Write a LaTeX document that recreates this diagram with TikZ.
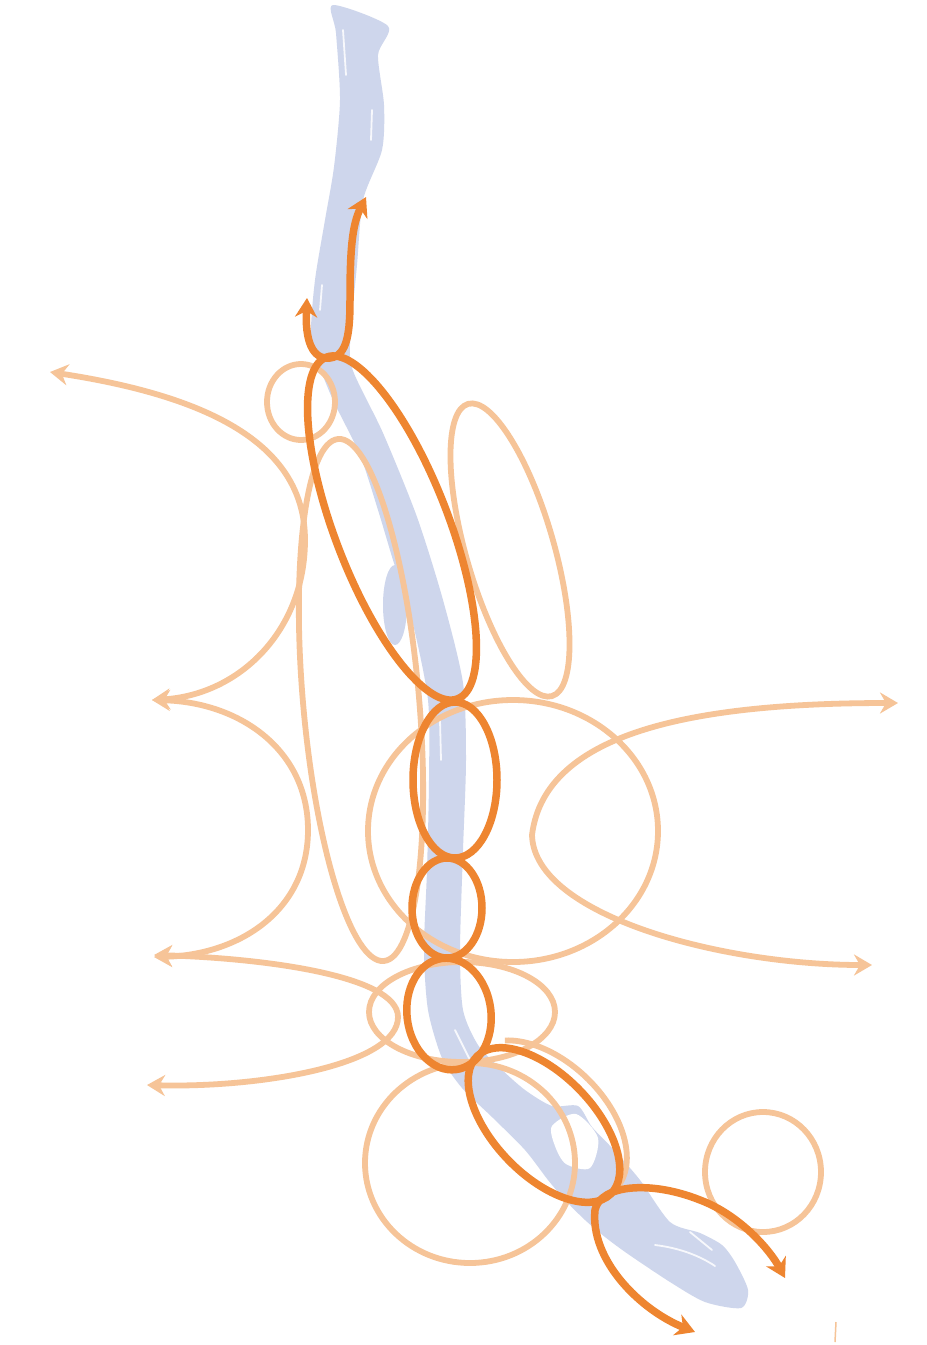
\documentclass[tikz,border=0pt]{standalone}
\usetikzlibrary{arrows.meta}
\definecolor{riverblue}{RGB}{206,214,236}
\definecolor{lightor}{RGB}{246,196,152}
\definecolor{darkor}{RGB}{238,133,48}
\begin{document}
\begin{tikzpicture}[x=1pt,y=-1pt,
  lightline/.style={draw=lightor,line width=5.8pt},
  darkline/.style={draw=darkor,line width=7.5pt},
  lboth/.style={{Stealth[length=18pt,width=21pt,inset=6pt]}-{Stealth[length=18pt,width=21pt,inset=6pt]}},
  dboth/.style={{Stealth[length=19pt,width=22pt,inset=6pt]}-{Stealth[length=19pt,width=22pt,inset=6pt]}},
  riverfill/.style={fill=riverblue,draw=none},
  streak/.style={draw=white,line width=1.8pt,opacity=0.85,line cap=round}]
\useasboundingbox[fill=white] (0,0) rectangle (927,1345);

% river
\path[riverfill] plot[smooth cycle,tension=0.45] coordinates {
 (333,5) (388,26) (378,55) (384,105) (382,150) (363,200) (357,265) (351,330)
 (352,368) (383,433) (417,517) (443,600) (463,683) (466,760) (463,850) (460,950)
 (463,1010) (478,1045) (500,1068) (525,1090) (552,1106) (578,1106) (592,1127)
 (614,1150) (640,1180) (670,1222) (700,1233) (722,1245) (735,1262) (748,1290)
 (741,1308) (705,1302) (670,1282) (628,1254) (605,1237) (585,1220) (565,1200)
 (548,1180) (525,1150) (492,1117) (462,1088) (442,1058) (428,1010) (424,950)
 (427,870) (429,780) (428,700) (412,620) (393,560) (378,510) (360,455) (333,400)
 (318,362) (311,333) (315,280) (325,220) (334,167) (340,100) (336,33)};
\path[riverfill] (395,605) ellipse [x radius=12pt, y radius=40pt];
\path[fill=white] plot[smooth cycle,tension=0.5] coordinates {
 (552,1126) (576,1114) (598,1138) (590,1168) (566,1164) (555,1146)};
\draw[streak] (343,30) -- (346,75);
\draw[streak] (372,110) -- (371,140);
\draw[streak] (322,285) -- (320,310);
\draw[streak] (440,720) -- (441,760);
\draw[streak] (455,1030) -- (470,1060);
\draw[streak] (655,1245) .. controls (680,1248) and (700,1256) .. (715,1266);
\draw[streak] (690,1232) -- (712,1250);

% light curves
\draw[lightline] (301,402) ellipse [x radius=34pt, y radius=38pt];
\draw[lightline,rotate around={16:(510,550)}] (510,550) ellipse [x radius=44pt, y radius=152pt];
\draw[lightline,rotate around={5:(361,700)}] (361,700) ellipse [x radius=58pt, y radius=262pt];
\draw[lightline] (513,831) ellipse [x radius=145pt, y radius=131pt];
\draw[lightline] (462,1012) ellipse [x radius=93pt, y radius=50pt];
\draw[lightline] (470,1163) ellipse [x radius=105pt, y radius=100pt];
\draw[lightline] plot[domain=-15:150,samples=60,smooth,variable=\t]
  ({545+98*cos(\t)*0.719+60*sin(\t)*0.695},{1121+98*cos(\t)*0.695-60*sin(\t)*0.719});
\draw[lightline] (763,1172) ellipse [x radius=58pt, y radius=60pt];

\draw[lightline,lboth] (50,372) .. controls (200,395) and (305,440) .. (305,540)
  .. controls (305,630) and (240,695) .. (152,700);
\draw[lightline,lboth] (152,700) .. controls (240,702) and (308,750) .. (308,830)
  .. controls (308,910) and (240,955) .. (154,957);
\draw[lightline,lboth] (154,955) .. controls (260,958) and (398,975) .. (398,1017)
  .. controls (398,1065) and (260,1088) .. (147,1085);
\draw[lightline,lboth] (898,703) .. controls (700,703) and (545,730) .. (532,835)
  .. controls (534,915) and (720,965) .. (872,965);
\draw[draw=lightor,line width=1.5pt] (836,1322) -- (835,1342);

% dark curves
\draw[darkline,rotate around={21:(392,528)}] (392,528) ellipse [x radius=57pt, y radius=183pt];
\draw[darkline] (455,780) ellipse [x radius=42pt, y radius=78pt];
\draw[darkline] (447,908) ellipse [x radius=35pt, y radius=50pt];
\draw[darkline,rotate around={7:(449,1014)}] (449,1014) ellipse [x radius=42pt, y radius=56pt];
\draw[darkline,rotate around={-46:(544,1125)}] (544,1125) ellipse [x radius=96pt, y radius=50pt];

\draw[darkline,dboth] (307,298) .. controls (305,340) and (312,360) .. (330,358)
  .. controls (348,356) and (350,330) .. (350,300)
  .. controls (350,250) and (352,225) .. (366,197);
\draw[darkline,dboth] (695,1332) .. controls (640,1310) and (590,1260) .. (595,1210)
  .. controls (600,1185) and (650,1180) .. (700,1200)
  .. controls (740,1215) and (770,1250) .. (785,1278);
\end{tikzpicture}
\end{document}
